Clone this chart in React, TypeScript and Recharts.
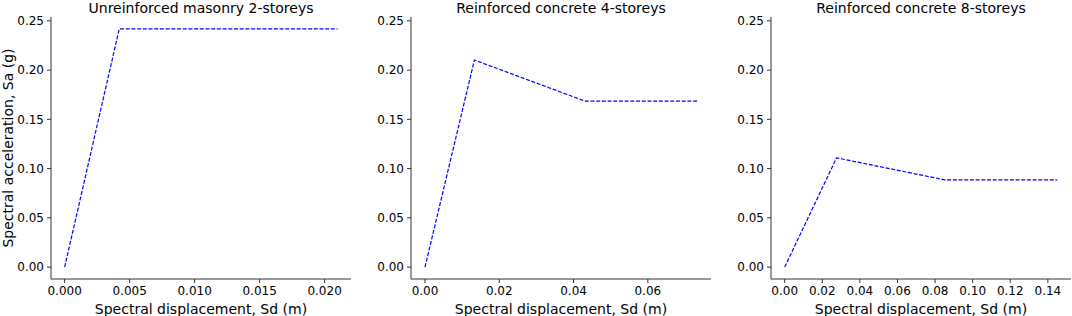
import { LineChart, Line, XAxis, YAxis } from 'recharts'

const titles = [
  'Unreinforced masonry 2-storeys',
  'Reinforced concrete 4-storeys',
  'Reinforced concrete 8-storeys',
]

// spectral displacement (m) and spectral acceleration (g) for each building class
const sdMasonry2 = [0, 0.0042, 0.021]
const saMasonry2 = [0, 0.2418, 0.2418]

const sdConcrete4 = [0, 0.0133, 0.0431, 0.0733]
const saConcrete4 = [0, 0.2102, 0.1685, 0.1685]

const sdConcrete8 = [0, 0.0276, 0.0851, 0.145]
const saConcrete8 = [0, 0.1109, 0.0886, 0.0886]

const yTicks = [0, 0.05, 0.1, 0.15, 0.2, 0.25]
const xTicks1 = [0, 0.005, 0.01, 0.015, 0.02]
const xTicks2 = [0, 0.02, 0.04, 0.06]
const xTicks3 = [0, 0.02, 0.04, 0.06, 0.08, 0.1, 0.12, 0.14]

const yDomain: [number, number] = [-0.0121, 0.2539]
const AXIS = '#333'

interface PanelProps {
  title: string
  sd: number[]
  sa: number[]
  xTicks: number[]
  xDomain: [number, number]
  decimals: number
  left: number
  width: number
  showYLabel?: boolean
}

function Panel({ title, sd, sa, xTicks, xDomain, decimals, left, width, showYLabel }: PanelProps) {
  const data = sd.map((x, i) => ({ sd: x, sa: sa[i] }))
  return (
    <div style={{ position: 'absolute', left, top: 0, width, height: 316 }}>
      <div
        style={{
          position: 'absolute',
          left: 51,
          width: 300,
          top: 0,
          height: 16,
          lineHeight: '16px',
          textAlign: 'center',
          fontSize: 14,
          color: '#000',
          whiteSpace: 'nowrap',
        }}
      >
        {title}
      </div>
      <LineChart width={width} height={316} data={data} margin={{ top: 17, right: width - 351, left: 0, bottom: 0 }}>
        <XAxis
          dataKey="sd"
          type="number"
          domain={xDomain}
          allowDataOverflow
          ticks={xTicks}
          tickFormatter={(v: number) => v.toFixed(decimals)}
          height={37}
          tickSize={4}
          tickMargin={3}
          stroke={AXIS}
          tick={{ fill: '#000', fontSize: 12 }}
          label={{ value: 'Spectral displacement, Sd (m)', position: 'insideBottom', offset: 2, fill: '#000', fontSize: 14 }}
        />
        <YAxis
          type="number"
          domain={yDomain}
          allowDataOverflow
          ticks={yTicks}
          tickFormatter={(v: number) => v.toFixed(2)}
          width={51}
          tickSize={4}
          tickMargin={3}
          stroke={AXIS}
          tick={{ fill: '#000', fontSize: 12 }}
          label={
            showYLabel
              ? {
                  value: 'Spectral acceleration, Sa (g)',
                  angle: -90,
                  position: 'insideLeft',
                  offset: 8,
                  fill: '#000',
                  fontSize: 14,
                  style: { textAnchor: 'middle' },
                }
              : undefined
          }
        />
        <Line
          type="linear"
          dataKey="sa"
          stroke="#0000ff"
          strokeWidth={1.2}
          strokeDasharray="4 1.7"
          dot={false}
          isAnimationActive={false}
        />
      </LineChart>
    </div>
  )
}

export default function App() {
  return (
    <div
      style={{
        position: 'absolute',
        left: 0,
        top: 0,
        width: 1072,
        height: 316,
        background: '#fff',
        fontFamily: '"DejaVu Sans", sans-serif',
      }}
    >
      <Panel title={titles[0]} sd={sdMasonry2} sa={saMasonry2} xTicks={xTicks1} xDomain={[-0.00105, 0.02203]} decimals={3} left={0} width={360} showYLabel />
      <Panel title={titles[1]} sd={sdConcrete4} sa={saConcrete4} xTicks={xTicks2} xDomain={[-0.00377, 0.0770]} decimals={2} left={360} width={360} />
      <Panel title={titles[2]} sd={sdConcrete8} sa={saConcrete8} xTicks={xTicks3} xDomain={[-0.00728, 0.1523]} decimals={2} left={720} width={352} />
    </div>
  )
}
